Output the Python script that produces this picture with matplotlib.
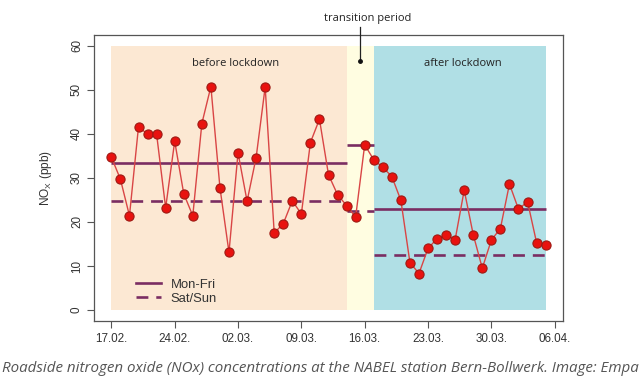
import numpy as np
import matplotlib
matplotlib.use("Agg")
import matplotlib.pyplot as plt
from matplotlib.lines import Line2D

# ---- data ----
start_date = np.datetime64("2020-02-17")
nox = [34.7, 29.7, 21.4, 41.6, 39.9, 39.9, 23.2, 38.3, 26.4, 21.4,
       42.3, 50.7, 27.8, 13.1, 35.7, 24.7, 34.6, 50.6, 17.5, 19.6,
       24.8, 21.8, 38.0, 43.3, 30.7, 26.2, 23.7, 21.1, 37.5, 34.1,
       32.4, 30.3, 24.9, 10.8, 8.3, 14.0, 16.2, 17.1, 16.0, 27.2,
       17.1, 9.5, 15.9, 18.5, 28.6, 22.9, 24.6, 15.3, 14.7]
dates = start_date + np.arange(len(nox))

period_names = ["before lockdown", "transition period", "after lockdown"]
period_start = [np.datetime64("2020-02-17"), np.datetime64("2020-03-14"), np.datetime64("2020-03-17")]
period_end = [np.datetime64("2020-03-14"), np.datetime64("2020-03-17"), np.datetime64("2020-04-05")]
mean_monfri = [33.4, 37.5, 22.9]
mean_satsun = [24.7, 22.4, 12.6]

tick_dates = [np.datetime64(d) for d in ["2020-02-17", "2020-02-24", "2020-03-02", "2020-03-09",
                                          "2020-03-16", "2020-03-23", "2020-03-30", "2020-04-06"]]
tick_labels = ["17.02.", "24.02.", "02.03.", "09.03.", "16.03.", "23.03.", "30.03.", "06.04."]
y_ticks = [0, 10, 20, 30, 40, 50, 60]

# ---- styles ----
shade_colors = ["#FCE8D3", "#FFFDE1", "#B0DFE5"]
mean_color = "#7A2D62"
line_color = "#D94545"
pt_face = "#E8120F"
pt_edge = "#9E1A14"
axis_color = "#555555"
text_color = "#333333"

fig = plt.figure(figsize=(6.40, 3.83), dpi=100)
ax = fig.add_axes([94/640, 1-320.7/383, (563-94)/640, (320.7-35)/383])

for s, e, c in zip(period_start, period_end, shade_colors):
    ax.fill_between([s, e], 0, 60, color=c, lw=0, zorder=0)

for s, e, mf, ss in zip(period_start, period_end, mean_monfri, mean_satsun):
    ax.plot([s, e], [mf, mf], color=mean_color, lw=1.9, zorder=2, solid_capstyle="butt")
    ax.plot([s, e], [ss, ss], color=mean_color, lw=1.9, ls=(0, (4.5, 3)), zorder=2)

ax.plot(dates, nox, color=line_color, lw=1.0, zorder=3)
ax.plot(dates, nox, ls="none", marker="o", ms=6.6, mfc=pt_face, mec=pt_edge, mew=0.8, zorder=4)

x0 = np.datetime64("2020-02-17T00:00") - np.timedelta64(int(1.92*24*60), "m")
x1 = np.datetime64("2020-02-17T00:00") + np.timedelta64(int(49.92*24*60), "m")
ax.set_xlim(x0, x1)
ax.set_ylim(-2.4, 62.4)

ax.set_xticks(tick_dates)
ax.set_xticklabels(tick_labels)
ax.set_yticks(y_ticks)
ax.set_yticklabels([str(v) for v in y_ticks], rotation=90, va="center")

for sp in ax.spines.values():
    sp.set_color(axis_color)
    sp.set_linewidth(0.9)
ax.tick_params(axis="both", colors=axis_color, length=5, width=0.8, labelcolor=text_color,
               labelsize=8.4)
ax.tick_params(axis="x", pad=4)
ax.tick_params(axis="y", pad=3)
for lab in ax.get_xticklabels() + ax.get_yticklabels():
    lab.set_family("Liberation Sans")

ax.set_ylabel("NO$_\\mathregular{X}$ (ppb)", fontsize=8.6, color=text_color,
              family="Liberation Sans", labelpad=12)

# region labels
ax.text(start_date + np.timedelta64(13, "D") + np.timedelta64(17, "h"), 56.0, period_names[0],
        ha="center", va="center", fontsize=8, family="Open Sans", color="#222222")
ax.text(start_date + np.timedelta64(38, "D") + np.timedelta64(20, "h"), 55.9, period_names[2],
        ha="center", va="center", fontsize=8, family="Open Sans", color="#222222")

# transition annotation (outside the axes)
xt = start_date + np.timedelta64(27, "D") + np.timedelta64(11, "h")
ax.plot([xt, xt], [56.6, 64.2], color="#222222", lw=0.9, clip_on=False, zorder=5)
ax.plot([xt], [56.6], marker="o", ms=2.5, color="#111111", clip_on=False, zorder=5)
fig.text(368/640, 1-18.3/383, period_names[1], ha="center", va="center", fontsize=8,
         family="Open Sans", color="#222222")

handles = [Line2D([], [], color=mean_color, lw=1.9),
           Line2D([], [], color=mean_color, lw=1.9, ls=(0, (4.5, 3)))]
leg = ax.legend(handles, ["Mon-Fri", "Sat/Sun"], loc="lower left",
                bbox_to_anchor=((136-94)/469, (320.7-305)/285.7), frameon=False,
                handlelength=1.9, handletextpad=0.75, labelspacing=0.15, borderpad=0,
                borderaxespad=0, prop={"family": "Liberation Sans", "size": 9.4})
for t in leg.get_texts():
    t.set_color(text_color)

fig.text(0.5, 1-368/383,
         "Roadside nitrogen oxide (NOx) concentrations at the NABEL station Bern-Bollwerk. Image: Empa",
         ha="center", va="center", fontsize=10.9, style="italic", family="Open Sans", color="#555555")

fig.savefig("out.png", dpi=100)
